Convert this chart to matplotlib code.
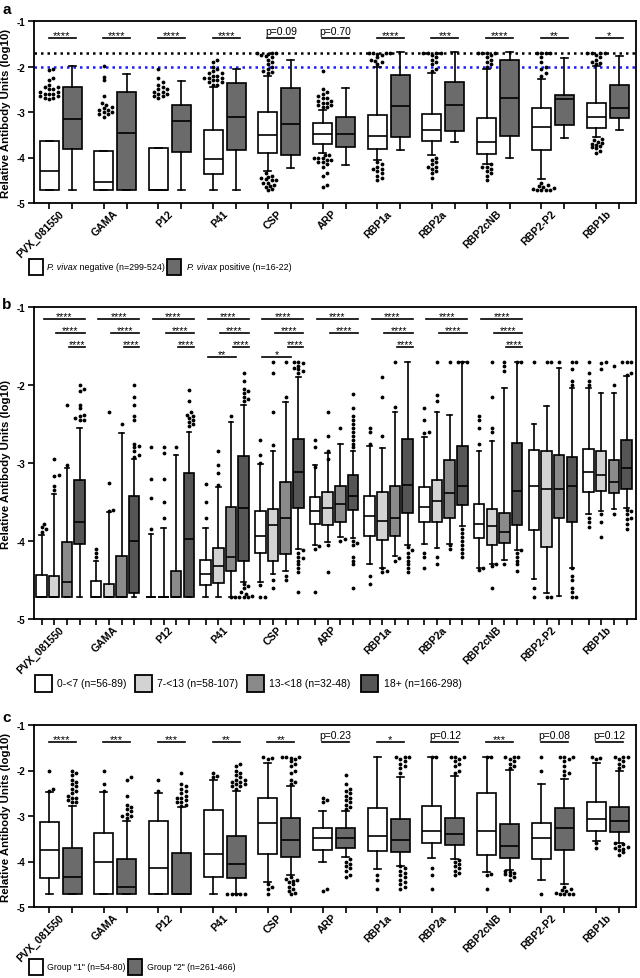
import matplotlib
matplotlib.use("Agg")
import matplotlib.pyplot as plt
from matplotlib.patches import Rectangle
import matplotlib.transforms as mtransforms

plt.rcParams['font.family'] = ['Liberation Sans', 'DejaVu Sans']
plt.rcParams['axes.unicode_minus'] = False

# ---------------- data ----------------
antigens = ['PVX_081550', 'GAMA', 'P12', 'P41', 'CSP', 'ARP', 'RBP1a', 'RBP2a',
            'RBP2cNB', 'RBP2-P2', 'RBP1b']
yticks = [-5, -4, -3, -2, -1]
ytick_labels = ['-5', '-4', '-3', '-2', '-1']
ylabel = 'Relative Antibody Units (log10)'

# Panel a: P. vivax negative / positive  (whislo, q1, med, q3, whishi)
a_neg_lo  = [-4.71, -4.71, -4.71, -4.71, -4.30, -3.90, -4.05, -3.95, -4.14, -4.47, -3.56]
a_neg_q1  = [-4.71, -4.71, -4.71, -4.36, -3.90, -3.71, -3.81, -3.64, -3.92, -3.84, -3.36]
a_neg_med = [-4.29, -4.53, -4.71, -4.04, -3.51, -3.48, -3.52, -3.40, -3.65, -3.32, -3.12]
a_neg_q3  = [-3.63, -3.86, -3.79, -3.40, -3.01, -3.25, -3.07, -3.04, -3.14, -2.92, -2.81]
a_neg_hi  = [-3.63, -3.86, -3.79, -2.45, -2.20, -2.95, -2.00, -2.15, -2.05, -2.27, -1.98]
a_neg_fliers = [
    [-2.05, -2.08, -2.25, -2.3, -2.4, -2.45, -2.45, -2.5, -2.5, -2.55, -2.55, -2.6, -2.6, -2.6, -2.65, -2.65, -2.7, -2.7, -2.72],
    [-1.98, -2.22, -2.3, -2.65, -2.8, -2.85, -2.9, -2.92, -2.95, -2.95, -3.0, -3.0, -3.05, -3.05, -3.1],
    [-2.05, -2.25, -2.35, -2.4, -2.45, -2.5, -2.5, -2.55, -2.55, -2.6, -2.6, -2.65, -2.65, -2.7],
    [-1.85, -1.9, -2.0, -2.05, -2.1, -2.15, -2.15, -2.2, -2.2, -2.25, -2.25, -2.25, -2.3, -2.3, -2.35, -2.35, -2.4, -2.4],
    [-1.7, -1.7, -1.7, -1.72, -1.75, -1.78, -1.8, -1.85, -1.9, -1.95, -2.0, -2.05, -2.1, -2.12, -2.15,
     -4.35, -4.4, -4.42, -4.45, -4.48, -4.5, -4.5, -4.55, -4.55, -4.6, -4.62, -4.65, -4.7, -4.72],
    [-2.1, -2.5, -2.55, -2.6, -2.65, -2.7, -2.7, -2.75, -2.75, -2.8, -2.8, -2.85, -2.85, -2.9, -2.9,
     -3.95, -3.95, -4.0, -4.0, -4.02, -4.05, -4.05, -4.1, -4.1, -4.15, -4.2, -4.35, -4.4, -4.6, -4.65],
    [-1.7, -1.7, -1.7, -1.7, -1.72, -1.75, -1.8, -1.85, -1.88, -1.9, -1.95,
     -4.1, -4.15, -4.2, -4.25, -4.25, -4.3, -4.35, -4.4, -4.45, -4.5],
    [-1.7, -1.7, -1.7, -1.7, -1.75, -1.8, -1.85, -1.9, -1.95, -2.05, -2.1,
     -4.0, -4.05, -4.1, -4.15, -4.2, -4.2, -4.25, -4.3, -4.35, -4.45],
    [-1.7, -1.7, -1.7, -1.7, -1.75, -1.8, -1.85, -1.9, -1.95, -2.0,
     -4.15, -4.2, -4.2, -4.25, -4.3, -4.35, -4.4, -4.5],
    [-1.7, -1.7, -1.7, -1.7, -1.8, -1.9, -2.0, -2.05, -2.15, -2.2,
     -4.55, -4.6, -4.62, -4.65, -4.68, -4.7, -4.72, -4.72, -4.72, -4.72],
    [-1.7, -1.7, -1.7, -1.7, -1.75, -1.8, -1.85, -1.9, -1.92, -1.95,
     -3.6, -3.62, -3.65, -3.68, -3.7, -3.72, -3.75, -3.78, -3.8, -3.85, -3.9],
]
a_pos_lo  = [-4.71, -4.71, -4.71, -4.71, -4.24, -4.16, -3.83, -3.67, -4.02, -3.58, -3.39]
a_pos_q1  = [-3.81, -4.71, -3.89, -3.84, -3.94, -3.78, -3.56, -3.42, -3.52, -3.29, -3.14]
a_pos_med = [-3.15, -3.47, -3.20, -3.12, -3.26, -3.48, -2.87, -2.85, -2.70, -2.71, -2.91]
a_pos_q3  = [-2.44, -2.57, -2.85, -2.36, -2.48, -3.10, -2.19, -2.35, -1.86, -2.62, -2.40]
a_pos_hi  = [-1.98, -2.16, -2.31, -2.05, -1.85, -2.47, -1.69, -1.69, -1.69, -1.82, -1.76]
a_pos_fliers = [[] for _ in range(11)]
a_sig = ['****', '****', '****', '****', 'p=0.09', 'p=0.70', '****', '***', '****', '**', '*']
a_ref_black = -1.7
a_ref_blue = -2.0
a_legend_italic = 'P. vivax'
a_legend = [' negative (n=299-524)', ' positive (n=16-22)']

# Panel b: age groups 0-<7, 7-<13, 13-<18, 18+
b_lo = [
    [-4.72, -4.72, -4.72, -4.72, -4.53, -4.05, -4.29, -4.04, -4.35, -4.49, -3.65],
    [-4.72, -4.72, -4.72, -4.72, -4.42, -4.01, -4.34, -4.09, -4.29, -4.67, -3.62],
    [-4.72, -4.72, -4.72, -4.72, -4.39, -3.95, -4.19, -4.04, -4.24, -4.71, -3.59],
    [-4.72, -4.72, -4.72, -4.53, -4.10, -3.96, -4.05, -3.81, -4.11, -4.34, -3.58],
]
b_q1 = [
    [-4.72, -4.72, -4.72, -4.56, -4.15, -3.78, -3.94, -3.75, -3.96, -3.86, -3.37],
    [-4.72, -4.72, -4.72, -4.54, -4.25, -3.80, -3.99, -3.76, -4.05, -4.08, -3.36],
    [-4.72, -4.72, -4.72, -4.39, -4.17, -3.75, -3.93, -3.70, -4.02, -3.70, -3.38],
    [-4.04, -4.67, -4.72, -4.26, -3.58, -3.60, -3.64, -3.54, -3.80, -3.75, -3.33],
]
b_med = [
    [-4.72, -4.72, -4.72, -4.42, -3.93, -3.62, -3.68, -3.57, -3.78, -3.30, -3.11],
    [-4.72, -4.72, -4.72, -4.32, -3.80, -3.58, -3.74, -3.49, -3.81, -3.33, -3.16],
    [-4.53, -4.72, -4.72, -4.20, -3.71, -3.52, -3.71, -3.38, -3.89, -3.33, -3.24],
    [-3.75, -4.00, -3.97, -3.58, -3.11, -3.42, -3.28, -3.29, -3.36, -3.30, -3.07],
]
b_q3 = [
    [-4.44, -4.51, -4.72, -4.24, -3.62, -3.44, -3.42, -3.31, -3.52, -2.83, -2.82],
    [-4.45, -4.55, -4.72, -4.09, -3.59, -3.37, -3.37, -3.22, -3.59, -2.84, -2.84],
    [-4.01, -4.19, -4.39, -3.57, -3.24, -3.29, -3.30, -2.96, -3.64, -2.90, -2.96],
    [-3.22, -3.42, -3.13, -2.91, -2.69, -3.15, -2.69, -2.78, -2.74, -2.92, -2.71],
]
b_hi = [
    [-3.92, -4.25, -3.91, -3.83, -3.01, -3.03, -2.78, -2.67, -2.85, -2.50, -2.04],
    [-3.40, -3.63, -3.83, -3.31, -2.85, -2.87, -2.81, -2.35, -2.72, -2.27, -2.10],
    [-3.07, -2.61, -2.90, -2.48, -2.22, -2.75, -2.34, -2.39, -2.04, -1.78, -2.10],
    [-2.55, -2.95, -2.60, -2.25, -1.90, -2.85, -1.70, -1.70, -1.70, -2.04, -1.88],
]
b_fliers = [
    [[-3.78, -3.82, -3.85, -3.88], [-4.1, -4.15, -4.2], [-2.8, -3.2, -3.45, -3.85],
     [-3.27, -3.5, -3.7], [-2.7, -2.9, -3.0, -4.57, -4.72, -4.72],
     [-2.7, -2.8, -3.05, -4.07, -4.1, -4.65], [-2.55, -2.6, -2.75, -4.45, -4.55],
     [-2.3, -2.45, -2.6, -2.62, -4.15, -4.2, -4.35], [-2.4, -2.45, -2.55, -2.75, -4.35, -4.37],
     [-1.7, -4.6, -4.72], [-1.7, -1.85, -1.95, -2.0, -3.7, -3.75, -3.82]],
    [[-2.95, -3.15, -3.17, -3.3, -3.35], [-2.35, -3.25, -3.6, -3.62], [-2.8, -2.87, -3.2, -3.5, -3.7],
     [-2.84, -3.03, -3.13, -3.28], [-1.7, -1.85, -2.35, -2.77, -4.5, -4.6],
     [-2.35, -2.65, -2.85, -2.95, -4.05, -4.4], [-1.9, -2.15, -2.65, -4.35, -4.4, -4.38],
     [-1.7, -2.13, -2.2, -4.2, -4.3], [-1.7, -2.15, -2.55, -2.6, -4.3, -4.32, -4.6],
     [-1.7, -1.7, -4.72, -4.72], [-1.7, -1.72, -1.8, -3.65, -3.75, -3.95]],
    [[-2.25, -3.02], [-2.5], [-2.8], [-2.4, -4.72, -4.72], [-1.7, -2.15, -4.45, -4.5],
     [-2.55, -3.98, -4.0], [-1.7, -2.28, -4.22, -4.25], [-1.7, -4.05, -4.1],
     [-1.7, -1.75, -1.82, -4.3], [-1.7], [-1.75, -2.0, -3.65]],
    [[-2.0, -2.05, -2.08, -2.25, -2.3, -2.38, -2.4, -2.42, -2.45, -2.45],
     [-2.0, -2.15, -2.25, -2.4, -2.45, -2.75, -2.78, -2.8, -2.85, -2.9, -2.92],
     [-2.07, -2.2, -2.35, -2.38, -2.4, -2.42, -2.45, -2.47, -2.5, -2.52],
     [-1.85, -1.95, -2.05, -2.08, -2.1, -2.15, -2.18, -2.2, -4.55, -4.58, -4.6, -4.65, -4.68, -4.7, -4.72, -4.72, -4.72],
     [-1.7, -1.7, -1.72, -1.75, -1.78, -1.8, -1.82, -1.85, -4.12, -4.15, -4.2, -4.22, -4.25, -4.3, -4.35, -4.4, -4.65],
     [-2.12, -2.3, -2.4, -2.45, -2.5, -2.55, -2.6, -2.65, -2.7, -2.75, -2.8, -4.0, -4.02, -4.05, -4.2, -4.25, -4.3, -4.6],
     [-4.08, -4.12, -4.15, -4.2, -4.25, -4.3, -4.35, -4.4],
     [-1.7, -1.7, -1.7, -3.85, -3.9, -3.95, -4.0, -4.05, -4.1, -4.15, -4.2],
     [-1.7, -1.7, -4.12, -4.15, -4.2, -4.25, -4.3, -4.38],
     [-1.7, -1.7, -1.8, -1.95, -2.0, -4.35, -4.45, -4.5, -4.6, -4.65, -4.72, -4.72],
     [-1.7, -1.7, -1.7, -1.85, -1.87, -3.6, -3.62, -3.65, -3.7, -3.72, -3.78, -3.85]],
]
# comparisons: (antigen index, from group, to group, level, label)
b_sig = [
    (0, 0, 3, 0, '****'), (0, 1, 3, 1, '****'), (0, 2, 3, 2, '****'),
    (1, 0, 3, 0, '****'), (1, 1, 3, 1, '****'), (1, 2, 3, 2, '****'),
    (2, 0, 3, 0, '****'), (2, 1, 3, 1, '****'), (2, 2, 3, 2, '****'),
    (3, 0, 3, 0, '****'), (3, 1, 3, 1, '****'), (3, 2, 3, 2, '****'), (3, 0, 2, 3, '**'),
    (4, 0, 3, 0, '****'), (4, 1, 3, 1, '****'), (4, 2, 3, 2, '****'), (4, 0, 2, 3, '*'),
    (5, 0, 3, 0, '****'), (5, 1, 3, 1, '****'),
    (6, 0, 3, 0, '****'), (6, 1, 3, 1, '****'), (6, 2, 3, 2, '****'),
    (7, 0, 3, 0, '****'), (7, 1, 3, 1, '****'),
    (8, 0, 3, 0, '****'), (8, 1, 3, 1, '****'), (8, 2, 3, 2, '****'),
]
b_legend = ['0-<7 (n=56-89)', '7-<13 (n=58-107)', '13-<18 (n=32-48)', '18+ (n=166-298)']

# Panel c: Group "1" / Group "2"
c_g1_lo  = [-4.72, -4.72, -4.72, -4.72, -4.45, -4.00, -4.17, -3.93, -4.22, -4.40, -3.54]
c_g1_q1  = [-4.37, -4.72, -4.72, -4.33, -3.84, -3.74, -3.78, -3.59, -3.86, -3.94, -3.33]
c_g1_med = [-3.75, -4.00, -4.15, -3.84, -3.15, -3.49, -3.45, -3.33, -3.33, -3.49, -3.07]
c_g1_q3  = [-3.14, -3.37, -3.11, -2.87, -2.60, -3.27, -2.83, -2.77, -2.50, -3.16, -2.70]
c_g1_hi  = [-2.47, -2.48, -2.49, -2.20, -1.84, -2.90, -1.70, -1.70, -1.70, -2.30, -1.84]
c_g1_fliers = [
    [-2.0, -2.4, -2.45], [-2.0, -2.3, -2.45], [-2.2, -2.45], [-2.05, -2.12, -2.15],
    [-1.7, -1.72, -1.75, -4.5, -4.55, -4.6, -4.72], [-2.6, -2.65, -2.7, -4.6, -4.65],
    [-4.3, -4.4, -4.6], [-1.7, -1.7, -4.15, -4.3, -4.6], [-1.7, -1.7, -4.28, -4.3, -4.6],
    [-1.7, -2.0, -4.72], [-1.7, -1.72, -1.75, -3.6, -3.7],
]
c_g2_lo  = [-4.72, -4.72, -4.72, -4.72, -4.30, -3.91, -4.09, -3.95, -4.18, -4.50, -3.59]
c_g2_q1  = [-4.72, -4.72, -4.72, -4.37, -3.91, -3.70, -3.80, -3.64, -3.92, -3.75, -3.36]
c_g2_med = [-4.33, -4.55, -4.72, -4.05, -3.52, -3.48, -3.52, -3.40, -3.67, -3.27, -3.12]
c_g2_q3  = [-3.70, -3.95, -3.81, -3.45, -3.04, -3.26, -3.07, -3.04, -3.18, -2.83, -2.81]
c_g2_hi  = [-2.77, -3.10, -2.81, -2.44, -2.33, -2.88, -2.14, -2.11, -1.98, -2.19, -2.01]
c_g2_fliers = [
    [-2.0, -2.05, -2.1, -2.2, -2.25, -2.3, -2.35, -2.4, -2.45, -2.5, -2.55, -2.6, -2.6, -2.65, -2.7, -2.7],
    [-2.15, -2.2, -2.55, -2.75, -2.8, -2.85, -2.9, -2.95, -3.0, -3.0, -3.05],
    [-2.05, -2.3, -2.35, -2.4, -2.45, -2.5, -2.55, -2.6, -2.6, -2.65, -2.7, -2.7, -2.75, -2.78],
    [-1.85, -1.9, -2.0, -2.05, -2.1, -2.15, -2.2, -2.2, -2.25, -2.25, -2.3, -2.3, -2.35, -2.35, -2.4,
     -4.72, -4.72, -4.72, -4.72, -4.72],
    [-1.7, -1.7, -1.7, -1.72, -1.75, -1.8, -1.85, -1.9, -2.0, -2.05, -2.2, -2.25, -2.3,
     -4.35, -4.38, -4.4, -4.42, -4.45, -4.5, -4.55, -4.6, -4.65, -4.7, -4.72],
    [-2.1, -2.3, -2.4, -2.45, -2.5, -2.55, -2.6, -2.65, -2.7, -2.75, -2.8, -2.85,
     -3.95, -4.0, -4.05, -4.1, -4.15, -4.2, -4.3, -4.35],
    [-1.7, -1.7, -1.7, -1.75, -1.8, -1.85, -1.9, -1.95, -2.05,
     -4.1, -4.15, -4.2, -4.25, -4.3, -4.35, -4.4, -4.45, -4.5, -4.55, -4.6],
    [-1.7, -1.7, -1.7, -1.75, -1.8, -1.85, -1.9, -2.0, -2.05,
     -3.97, -4.0, -4.05, -4.1, -4.15, -4.2, -4.25, -4.3],
    [-1.7, -1.7, -1.7, -1.75, -1.8, -1.85, -1.9, -1.95,
     -4.2, -4.22, -4.25, -4.28, -4.3, -4.35, -4.4],
    [-1.7, -1.7, -1.7, -1.75, -1.8, -1.9, -2.0, -2.05, -2.1,
     -4.55, -4.6, -4.62, -4.65, -4.7, -4.72, -4.72, -4.72, -4.72],
    [-1.7, -1.7, -1.7, -1.75, -1.8, -1.85, -1.9, -1.95,
     -3.6, -3.62, -3.65, -3.68, -3.7, -3.72, -3.75, -3.8, -3.85],
]
c_sig = ['****', '***', '***', '**', '**', 'p=0.23', '*', 'p=0.12', '***', 'p=0.08', 'p=0.12']
c_legend = ['Group "1" (n=54-80)', 'Group "2" (n=261-466)']

# ---------------- layout ----------------
W, H = 640, 979
fig = plt.figure(figsize=(W / 100, H / 100), dpi=100)
renderer = fig.canvas.get_renderer()

def ax_at(left, top, right, bottom):
    return fig.add_axes([left / W, 1 - bottom / H, (right - left) / W, (bottom - top) / H])

XW = 602.0
GROUP_SP = 54.7
G0 = 26.5
centers = [G0 + i * GROUP_SP for i in range(len(antigens))]

DOT_D = 3.6  # px


def swarm_offsets(vals, ppu, d=DOT_D):
    order = sorted(range(len(vals)), key=lambda k: vals[k])
    placed = []
    offs = [0.0] * len(vals)
    for k in order:
        y = vals[k] * ppu
        step = 0
        while True:
            n = (step + 1) // 2
            sgn = 1 if step % 2 == 1 else -1
            off = 0.0 if step == 0 else sgn * n * d * 0.6
            ok = all((off - px) ** 2 + (y - py) ** 2 >= (0.95 * d) ** 2 for px, py in placed)
            if ok:
                placed.append((off, y))
                offs[k] = off
                break
            step += 1
    return offs


def style_axes(ax, box_positions):
    ax.set_xlim(0, XW)
    ax.set_ylim(-5, -1)
    ax.set_yticks(yticks)
    ax.set_yticklabels(ytick_labels, fontsize=7, fontweight='bold')
    ax.set_xticks(box_positions)
    ax.set_xticklabels([])
    ax.tick_params(axis='both', direction='out', length=4, width=1.2, pad=2)
    for s in ax.spines.values():
        s.set_linewidth(1.3)
    ax.set_ylabel(ylabel, fontsize=8.2, fontweight='bold', labelpad=4)
    trans = mtransforms.offset_copy(ax.get_xaxis_transform(), fig=fig, x=0, y=-5, units='dots')
    for c, name in zip(centers, antigens):
        ax.text(c - 2, 0, name, transform=trans, rotation=45, rotation_mode='anchor',
                ha='right', va='top', fontsize=7.6, fontweight='bold')


def draw_boxes(ax, positions, width, lo, q1, med, q3, hi, fliers, color, ppu, capw):
    stats = []
    for i in range(len(lo)):
        stats.append(dict(whislo=lo[i], q1=q1[i], med=med[i], q3=q3[i], whishi=hi[i], fliers=[]))
    ax.bxp(stats, positions=positions, widths=width, patch_artist=True, showfliers=False,
           capwidths=capw,
           boxprops=dict(facecolor=color, edgecolor='black', linewidth=1.2),
           whiskerprops=dict(color='black', linewidth=1.2),
           capprops=dict(color='black', linewidth=1.2),
           medianprops=dict(color='black', linewidth=1.2))
    xs, ys = [], []
    for p, fl in zip(positions, fliers):
        if not fl:
            continue
        offs = swarm_offsets(fl, ppu)
        xs += [p + o for o in offs]
        ys += list(fl)
    ax.scatter(xs, ys, s=7.5, color='black', linewidths=0, zorder=5)


def legend_patch(x, y, color, w=14, h=16):
    fig.add_artist(Rectangle((x / W, 1 - (y + h / 2) / H), w / W, h / H, transform=fig.transFigure,
                             facecolor=color, edgecolor='black', linewidth=1.3))


def fig_text(x, y, s, **kw):
    return fig.text(x / W, 1 - y / H, s, va='center', ha='left', **kw)


def sig_labels(ax, labels):
    for c, lab in zip(centers, labels):
        ax.plot([c - 12, c + 15], [-1.37, -1.37], color='black', linewidth=1.2)
        if lab.startswith('p'):
            ax.text(c + 1.5, -1.32, lab, ha='center', va='bottom', fontsize=7.5)
        else:
            ax.text(c + 1.5, -1.42, lab, ha='center', va='bottom', fontsize=8)

# ---------------- panel a ----------------
A_GRAY = '#6b6b6b'
ax_a = ax_at(34, 22, 636, 204)
ppu_a = 182 / 4
pa_neg = [c - 11.5 for c in centers]
pa_pos = [c + 11.5 for c in centers]
ax_a.axhline(a_ref_black, color='black', linestyle=(0, (1, 1.6)), linewidth=1.8, zorder=1)
ax_a.axhline(a_ref_blue, color='#1a1aff', linestyle=(0, (1, 1.6)), linewidth=1.8, zorder=1)
draw_boxes(ax_a, pa_neg, 19, a_neg_lo, a_neg_q1, a_neg_med, a_neg_q3, a_neg_hi, a_neg_fliers, 'white', ppu_a, 7)
draw_boxes(ax_a, pa_pos, 19, a_pos_lo, a_pos_q1, a_pos_med, a_pos_q3, a_pos_hi, a_pos_fliers, A_GRAY, ppu_a, 7)
style_axes(ax_a, sorted(pa_neg + pa_pos))
sig_labels(ax_a, a_sig)
fig.text(7 / W, 1 - 10 / H, 'a', fontsize=11, fontweight='bold', ha='center', va='center')


def italic_then_plain(x, y, it, rest, fs):
    t1 = fig_text(x, y, it, fontsize=fs, style='italic')
    w = t1.get_window_extent(renderer=renderer).width
    fig_text(x + w, y, rest, fontsize=fs)


legend_patch(29, 268, 'white')
italic_then_plain(47, 268, a_legend_italic, a_legend[0], 6.4)
legend_patch(167, 268, A_GRAY)
italic_then_plain(187, 268, a_legend_italic, a_legend[1], 6.4)

# ---------------- panel b ----------------
B_COLORS = ['white', '#d3d3d3', '#8a8a8a', '#555555']
b_offsets = [-19.0, -6.3, 6.3, 19.0]
ax_b = ax_at(34, 308, 636, 620)
ppu_b = 312 / 4
all_pos_b = []
for g in range(4):
    pos = [c + b_offsets[g] for c in centers]
    all_pos_b += pos
    draw_boxes(ax_b, pos, 10.5, b_lo[g], b_q1[g], b_med[g], b_q3[g], b_hi[g], b_fliers[g], B_COLORS[g], ppu_b, 4.5)
style_axes(ax_b, sorted(all_pos_b))
b_levels = [-1.16, -1.33, -1.51, -1.645]
for ai, g1, g2, lev, lab in b_sig:
    x1 = centers[ai] + b_offsets[g1] + 2
    x2 = centers[ai] + b_offsets[g2] + 5
    y = b_levels[lev]
    ax_b.plot([x1, x2], [y, y], color='black', linewidth=1.2)
    ax_b.text((x1 + x2) / 2, y - 0.025, lab, ha='center', va='bottom', fontsize=7.5)
fig.text(7 / W, 1 - 305 / H, 'b', fontsize=11, fontweight='bold', ha='center', va='center')
leg_b_x = [(35, 57), (135, 157), (247, 269), (361, 384)]
for (px, tx), col, lab in zip(leg_b_x, B_COLORS, b_legend):
    legend_patch(px, 684, col, w=17, h=17)
    fig_text(tx, 684, lab, fontsize=7.5)

# ---------------- panel c ----------------
C_GRAY = '#6b6b6b'
ax_c = ax_at(34, 726, 636, 908)
ppu_c = 182 / 4
pc1 = [c - 11.5 for c in centers]
pc2 = [c + 11.5 for c in centers]
draw_boxes(ax_c, pc1, 19, c_g1_lo, c_g1_q1, c_g1_med, c_g1_q3, c_g1_hi, c_g1_fliers, 'white', ppu_c, 7)
draw_boxes(ax_c, pc2, 19, c_g2_lo, c_g2_q1, c_g2_med, c_g2_q3, c_g2_hi, c_g2_fliers, C_GRAY, ppu_c, 7)
style_axes(ax_c, sorted(pc1 + pc2))
sig_labels(ax_c, c_sig)
fig.text(7 / W, 1 - 718 / H, 'c', fontsize=11, fontweight='bold', ha='center', va='center')
legend_patch(29, 968, 'white')
fig_text(47, 968, c_legend[0], fontsize=6.3)
legend_patch(128, 968, C_GRAY)
fig_text(147, 968, c_legend[1], fontsize=6.3)

fig.savefig('out.png', dpi=100)
